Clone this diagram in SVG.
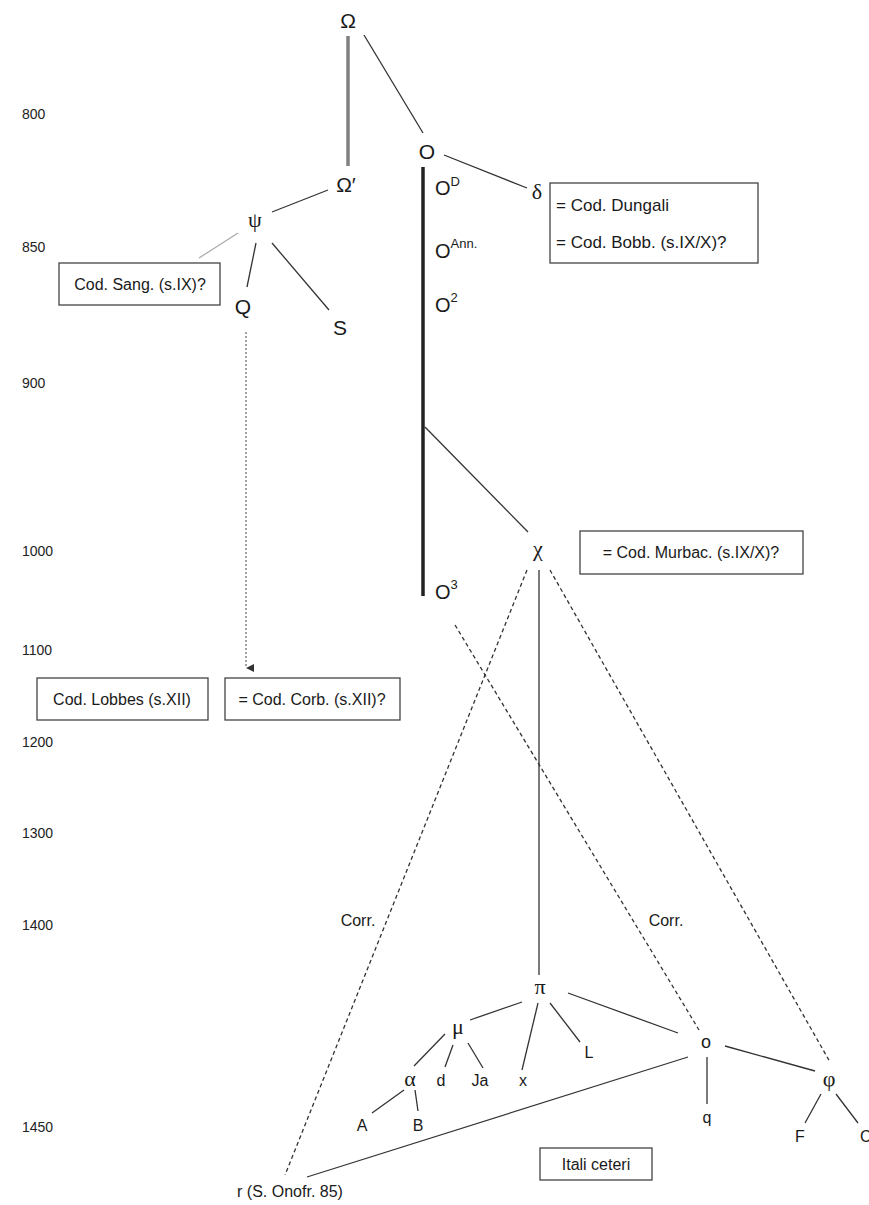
<svg xmlns="http://www.w3.org/2000/svg" width="869" height="1205" viewBox="0 0 869 1205">
<style>
.sans{font-family:"Liberation Sans",Arial,sans-serif;fill:#1a1a1a}
.ser{font-family:"Liberation Serif","Times New Roman",serif;fill:#1a1a1a}
.yr{font-family:"Liberation Sans",Arial,sans-serif;font-size:14px;fill:#222}
.big{font-size:21px}
.gk{font-size:22px}
.sm{font-size:16px}
.sup{font-size:13px}
.box{fill:#fff;stroke:#444;stroke-width:1.3}
.ln{stroke:#333;stroke-width:1.3;fill:none}
.dash{stroke:#333;stroke-width:1.3;fill:none;stroke-dasharray:4 3}
.dot{stroke:#555;stroke-width:1.1;fill:none;stroke-dasharray:2 2}
</style>
<defs>
<marker id="arr" viewBox="0 0 10 10" refX="5" refY="10" markerWidth="8" markerHeight="8" orient="auto-start-reverse" markerUnits="userSpaceOnUse">
<path d="M0,0 L10,0 L5,10 Z" fill="#333"/>
</marker>
</defs>
<rect width="869" height="1205" fill="#fff"/>
<g id="years">
<text class="yr" x="22" y="119">800</text>
<text class="yr" x="22" y="252">850</text>
<text class="yr" x="22" y="388">900</text>
<text class="yr" x="22" y="556">1000</text>
<text class="yr" x="22" y="655">1100</text>
<text class="yr" x="22" y="747">1200</text>
<text class="yr" x="22" y="838">1300</text>
<text class="yr" x="22" y="930">1400</text>
<text class="yr" x="22" y="1132">1450</text>
</g>
<g id="connectors">
<line x1="348" y1="36" x2="348" y2="166" stroke="#808080" stroke-width="3.5"/>
<line class="ln" x1="364" y1="35" x2="423" y2="133"/>
<line x1="423" y1="167" x2="423" y2="596" stroke="#222" stroke-width="3.5"/>
<line class="ln" x1="444" y1="155" x2="527" y2="188"/>
<line class="ln" x1="328" y1="190" x2="272" y2="212"/>
<line x1="238" y1="233" x2="199" y2="258" stroke="#aaa" stroke-width="1.2"/>
<line class="ln" x1="256" y1="243" x2="247" y2="287"/>
<line class="ln" x1="272" y1="243" x2="329" y2="310"/>
<line class="dot" x1="246" y1="332" x2="246" y2="668" marker-end="url(#arr)"/>
<line class="ln" x1="425" y1="427" x2="528" y2="532"/>
<line class="ln" x1="539" y1="570" x2="539" y2="975"/>
<line class="dash" x1="527" y1="570" x2="285" y2="1175"/>
<line class="dash" x1="550" y1="570" x2="830" y2="1062"/>
<line class="dash" x1="455" y1="625" x2="699" y2="1030"/>
<line class="ln" x1="522" y1="1002" x2="470" y2="1020"/>
<line class="ln" x1="538" y1="1003" x2="522" y2="1070"/>
<line class="ln" x1="550" y1="1003" x2="580" y2="1042"/>
<line class="ln" x1="568" y1="993" x2="678" y2="1033"/>
<line class="ln" x1="445" y1="1034" x2="414" y2="1066"/>
<line class="ln" x1="453" y1="1045" x2="445" y2="1067"/>
<line class="ln" x1="468" y1="1043" x2="483" y2="1068"/>
<line class="ln" x1="404" y1="1090" x2="372" y2="1113"/>
<line class="ln" x1="415" y1="1090" x2="418" y2="1111"/>
<line class="ln" x1="707" y1="1057" x2="707" y2="1104"/>
<line class="ln" x1="725" y1="1046" x2="815" y2="1071"/>
<line class="ln" x1="688" y1="1057" x2="307" y2="1177"/>
<line class="ln" x1="821" y1="1094" x2="805" y2="1123"/>
<line class="ln" x1="836" y1="1094" x2="858" y2="1123"/>
</g>
<g id="n-Omega"><text class="sans big" x="348" y="28" text-anchor="middle">Ω</text></g>
<g id="n-O"><text class="sans big" x="427" y="159" text-anchor="middle">O</text></g>
<g id="n-Omega2"><text class="sans big" x="346" y="192" text-anchor="middle">Ω′</text></g>
<g id="n-psi"><text class="ser gk" x="255" y="227" text-anchor="middle">ψ</text></g>
<g id="n-sang"><rect class="box" x="59" y="263" width="161" height="42"/><text class="sans sm" x="140" y="290" text-anchor="middle">Cod. Sang. (s.IX)?</text></g>
<g id="n-Q"><text class="sans big" x="243" y="314" text-anchor="middle">Q</text></g>
<g id="n-S"><text class="sans big" x="340" y="335" text-anchor="middle">S</text></g>
<g id="n-lobbes"><rect class="box" x="37" y="678" width="171" height="42"/><text class="sans sm" x="122" y="705" text-anchor="middle">Cod. Lobbes (s.XII)</text></g>
<g id="n-corb"><rect class="box" x="225" y="678" width="175" height="42"/><text class="sans sm" x="312" y="705" text-anchor="middle">= Cod. Corb. (s.XII)?</text></g>
<g id="n-delta"><text class="ser gk" x="537" y="199" text-anchor="middle">δ</text></g>
<g id="n-dungali"><rect class="box" x="550" y="183" width="208" height="80"/>
<text class="sans" font-size="17" x="556" y="211">= Cod. Dungali</text>
<text class="sans" font-size="17" x="556" y="248">= Cod. Bobb. (s.IX/X)?</text></g>
<g id="n-OD"><text class="sans" font-size="20" x="435" y="195">O<tspan class="sup" dy="-9">D</tspan></text></g>
<g id="n-OAnn"><text class="sans" font-size="20" x="435" y="258">O<tspan class="sup" dy="-10">Ann.</tspan></text></g>
<g id="n-O2"><text class="sans" font-size="20" x="435" y="312">O<tspan class="sup" dy="-10">2</tspan></text></g>
<g id="n-O3"><text class="sans" font-size="20" x="435" y="599">O<tspan class="sup" dy="-10">3</tspan></text></g>
<g id="n-chi"><text class="ser gk" x="538" y="556" text-anchor="middle">χ</text></g>
<g id="n-murbac"><rect class="box" x="580" y="531" width="223" height="43"/><text class="sans sm" x="691" y="558" text-anchor="middle">= Cod. Murbac. (s.IX/X)?</text></g>
<g id="n-corr1"><text class="sans sm" x="358" y="926" text-anchor="middle">Corr.</text></g>
<g id="n-corr2"><text class="sans sm" x="666" y="926" text-anchor="middle">Corr.</text></g>
<g id="n-pi"><text class="ser gk" x="540" y="994" text-anchor="middle">π</text></g>
<g id="n-mu"><text class="ser gk" x="458" y="1034" text-anchor="middle">μ</text></g>
<g id="n-alpha"><text class="ser gk" x="410" y="1086" text-anchor="middle">α</text></g>
<g id="n-d"><text class="sans sm" x="441" y="1086" text-anchor="middle">d</text></g>
<g id="n-Ja"><text class="sans sm" x="480" y="1086" text-anchor="middle">Ja</text></g>
<g id="n-x"><text class="sans sm" x="523" y="1086" text-anchor="middle">x</text></g>
<g id="n-L"><text class="sans sm" x="589" y="1058" text-anchor="middle">L</text></g>
<g id="n-o"><text class="sans" font-size="18" x="706" y="1048" text-anchor="middle">o</text></g>
<g id="n-q"><text class="sans sm" x="707" y="1123" text-anchor="middle">q</text></g>
<g id="n-phi"><text class="ser gk" x="829" y="1086" text-anchor="middle">φ</text></g>
<g id="n-F"><text class="sans sm" x="800" y="1142" text-anchor="middle">F</text></g>
<g id="n-C"><text class="sans sm" x="860" y="1142">C</text></g>
<g id="n-A"><text class="sans sm" x="362" y="1131" text-anchor="middle">A</text></g>
<g id="n-B"><text class="sans sm" x="418" y="1131" text-anchor="middle">B</text></g>
<g id="n-itali"><rect class="box" x="540" y="1148" width="112" height="32"/><text class="sans sm" x="596" y="1170" text-anchor="middle">Itali ceteri</text></g>
<g id="n-r"><text class="sans sm" x="290" y="1197" text-anchor="middle">r (S. Onofr. 85)</text></g>
</svg>
